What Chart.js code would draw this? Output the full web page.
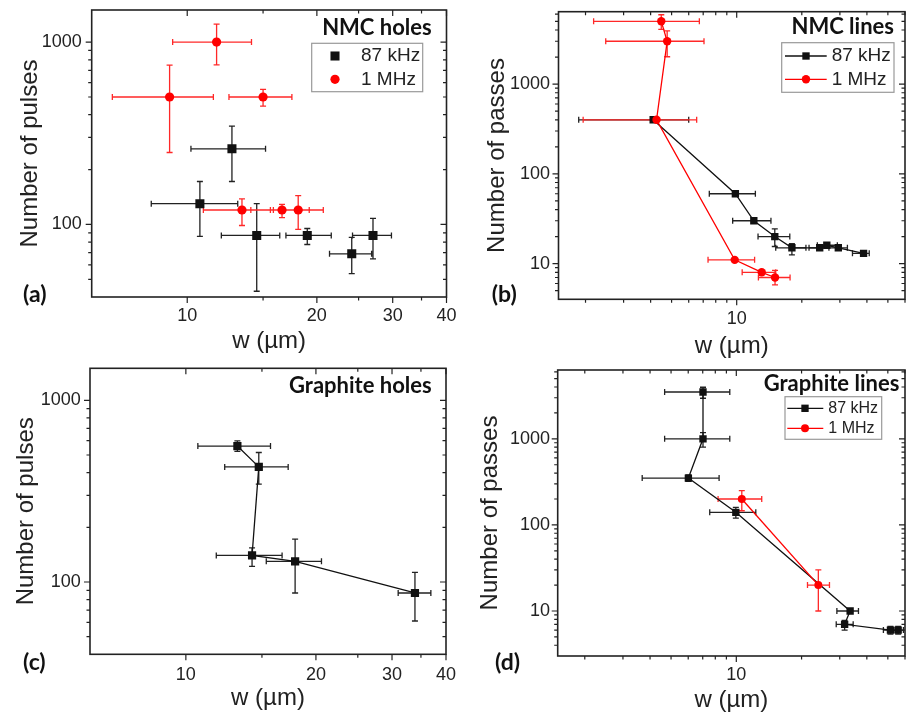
<!DOCTYPE html>
<html>
<head>
<meta charset="utf-8">
<script src="https://cdn.jsdelivr.net/npm/chart.js@4.4.1/dist/chart.umd.min.js"></script>
<style>
 html, body { margin: 0; padding: 0; background: #fff; }
 #wrap { position: relative; width: 911px; height: 715px; }
 #wrap canvas { position: absolute; left: 0; top: 0; }
</style>
</head>
<body>
<div id="wrap">
 <canvas id="chartA" width="911" height="715"></canvas>
 <canvas id="chartB" width="911" height="715"></canvas>
 <canvas id="chartC" width="911" height="715"></canvas>
 <canvas id="chartD" width="911" height="715"></canvas>
</div>
<script>
// ---- data: w (um) against number of pulses / passes, error bars as [low, high]

// (a) NMC holes
const aBlackW = [10.7, 12.7, 14.5, 19.0, 24.1, 27.0];
const aBlackN = [130, 260, 87, 87, 69, 87];
const aBlackWErr = [[8.25, 13.1], [10.2, 15.2], [12.0, 16.4], [16.95, 21.6], [21.4, 26.8], [24.2, 29.8]];
const aBlackNErr = [[86, 172], [172, 346], [43, 130], [77.6, 95], [53.7, 85], [64.7, 108]];
const aRedW = [9.1, 11.7, 15.0, 13.4, 16.6, 18.1];
const aRedN = [500, 1000, 500, 120, 120, 120];
const aRedWErr = [[6.7, 11.5], [9.25, 14.1], [12.5, 17.5], [10.9, 15.6], [14.05, 19.2], [15.85, 20.7]];
const aRedNErr = [[248, 747], [750, 1256], [445, 550], [98.7, 138], [109, 129], [94, 144]];

// (b) NMC lines
const bBlackW = [4.11, 9.86, 12.0, 15.0, 18.0, 24.2, 26.1, 29.5, 38.6];
const bBlackN = [400, 60, 30, 20, 15, 15, 16, 15, 13];
const bBlackWErr = [[1.86, 6.0], [7.47, 12.2], [9.58, 14.4], [12.55, 17.6], [15.15, 20.9], [21.6, 26.7], [23.6, 29.2], [26.7, 32.5], [34.3, 41.0]];
const bBlackNErr = [null, null, null, [15.5, 24.4], [12.5, 16.7], null, null, null, null];
const bRedW = [4.48, 4.77, 4.26, 9.79, 13.05, 15.04];
const bRedN = [5000, 3000, 400, 11, 8, 7];
const bRedWErr = [[2.18, 6.72], [2.48, 7.06], [1.95, 6.53], [7.37, 12.1], [10.6, 15.15], [12.6, 17.65]];
const bRedNErr = [[4067, 5916], [2014, 3920], null, null, null, [5.8, 8.4]];

// (c) Graphite holes
const cBlackW = [13.16, 14.75, 14.23, 17.9, 33.9];
const cBlackN = [560, 430, 140, 130, 87];
const cBlackWErr = [[10.66, 15.7], [12.3, 17.25], [11.76, 16.7], [15.35, 20.6], [31.0, 36.9]];
const cBlackNErr = [[524, 598], [346, 516], [122, 154], [87, 172], [61, 113]];

// (d) Graphite lines
const dBlackW = [7.02, 7.02, 6.01, 9.95, 33.5, 31.6, 51.4, 55.8];
const dBlackN = [3500, 1000, 350, 140, 10, 7, 6, 6];
const dBlackWErr = [[4.67, 9.33], [4.67, 9.33], [3.68, 8.33], [7.54, 12.3], [29.1, 36.6], [28.9, 34.6], [47.7, 54.0], [53.0, 59.0]];
const dBlackNErr = [[2960, 3970], [801, 1183], [320, 380], [120, 160], null, [6.0, 7.8], [5.4, 6.6], [5.4, 6.6]];
const dRedW = [10.6, 23.9];
const dRedN = [200, 20];
const dRedWErr = [[8.24, 13.1], [21.3, 26.9]];
const dRedNErr = [[146, 250], [10, 30]];

// ---- axes
const acXRange = [6, 40];
const acYRange = [40, 1500];
const bdXRange = [1.5, 60];
const bYRange = [4, 6400];
const dYRange = [3, 6300];
const acXMajor = [10, 20, 30, 40];
const acXMinor = [15, 25, 35];
const acYMajor = [100, 1000];
const acYMinor = [50, 60, 70, 80, 90, 200, 300, 400, 500, 600, 700, 800, 900];
const bdXMajor = [10];
const bdXMinor = [2, 3, 4, 5, 6, 7, 8, 9, 20, 30, 40, 50, 60];
const bdYMajor = [10, 100, 1000];
const bYMinor = [5, 6, 7, 8, 9, 20, 30, 40, 50, 60, 70, 80, 90, 200, 300, 400, 500, 600, 700, 800, 900, 2000, 3000, 4000, 5000, 6000];
const dYMinor = [4, 5, 6, 7, 8, 9, 20, 30, 40, 50, 60, 70, 80, 90, 200, 300, 400, 500, 600, 700, 800, 900, 2000, 3000, 4000, 5000, 6000];

const BLACK = '#111';
const RED = 'rgb(255, 0, 0)';
const SANS = '"Liberation Sans", Arial, sans-serif';
const BOLD = 'bold 22px Lato, sans-serif';
const TAG = 'bold 23px Lato, sans-serif';

Chart.defaults.font.family = SANS;

// error bars, drawn under lines and markers
const errorBars = {
 id: 'errorBars',
 beforeDatasetsDraw(chart) {
  const ctx = chart.ctx, xs = chart.scales.x, ys = chart.scales.y;
  chart.data.datasets.forEach(ds => {
   ctx.save();
   ctx.strokeStyle = ds.errColor;
   ctx.lineWidth = 1.3;
   ctx.beginPath();
   ds.data.forEach((p, i) => {
    const px = xs.getPixelForValue(p.x), py = ys.getPixelForValue(p.y);
    const we = ds.wErr[i], ne = ds.nErr[i];
    if (we) {
     const x1 = xs.getPixelForValue(we[0]), x2 = xs.getPixelForValue(we[1]);
     ctx.moveTo(x1, py); ctx.lineTo(x2, py);
     ctx.moveTo(x1, py - 3); ctx.lineTo(x1, py + 3);
     ctx.moveTo(x2, py - 3); ctx.lineTo(x2, py + 3);
    }
    if (ne) {
     const y1 = ys.getPixelForValue(ne[0]), y2 = ys.getPixelForValue(ne[1]);
     ctx.moveTo(px, y1); ctx.lineTo(px, y2);
     ctx.moveTo(px - 3, y1); ctx.lineTo(px + 3, y1);
     ctx.moveTo(px - 3, y2); ctx.lineTo(px + 3, y2);
    }
   });
   ctx.stroke();
   ctx.restore();
  });
 }
};

function drawMarker(ctx, ds, x, y) {
 ctx.fillStyle = ds.backgroundColor;
 ctx.beginPath();
 if (ds.pointStyle === 'rect') {
  const h = ds.pointRadius * Math.SQRT1_2;
  ctx.rect(x - h, y - h, 2 * h, 2 * h);
 } else {
  ctx.arc(x, y, ds.pointRadius, 0, Math.PI * 2);
 }
 ctx.fill();
}

// frame with mirrored ticks, panel title, tag and legend
function decor(p) {
 return {
  id: 'decor',
  afterDraw(chart) {
   const ctx = chart.ctx, a = chart.chartArea;
   const xs = chart.scales.x, ys = chart.scales.y;
   ctx.save();
   ctx.strokeStyle = '#222';
   ctx.lineWidth = 1.2;
   ctx.beginPath();
   const xt = (v, len) => {
    const px = xs.getPixelForValue(v);
    ctx.moveTo(px, a.bottom); ctx.lineTo(px, a.bottom + len);
    ctx.moveTo(px, a.top); ctx.lineTo(px, a.top + len);
   };
   const yt = (v, len) => {
    const py = ys.getPixelForValue(v);
    ctx.moveTo(a.left, py); ctx.lineTo(a.left - len, py);
    ctx.moveTo(a.right, py); ctx.lineTo(a.right - len, py);
   };
   p.xMajor.forEach(v => xt(v, 6));
   p.xMinor.forEach(v => xt(v, 3.5));
   p.yMajor.forEach(v => yt(v, 6));
   p.yMinor.forEach(v => yt(v, 3.5));
   ctx.stroke();
   ctx.lineWidth = 1.6;
   ctx.strokeRect(a.left, a.top, a.right - a.left, a.bottom - a.top);

   ctx.fillStyle = '#111';
   ctx.textBaseline = 'middle';
   ctx.font = BOLD;
   ctx.textAlign = 'right';
   ctx.fillText(p.title, p.titleAt[0], p.titleAt[1]);
   ctx.font = TAG;
   ctx.textAlign = 'left';
   ctx.fillText(p.tag, p.tagAt[0], p.tagAt[1]);

   const lg = p.legend;
   if (lg) {
    ctx.fillStyle = '#fff';
    ctx.fillRect(lg.box[0], lg.box[1], lg.box[2], lg.box[3]);
    ctx.strokeStyle = '#999';
    ctx.lineWidth = 1.2;
    ctx.strokeRect(lg.box[0], lg.box[1], lg.box[2], lg.box[3]);
    ctx.font = lg.font + 'px ' + SANS;
    chart.data.datasets.forEach((ds, i) => {
     const y = lg.rows[i];
     if (lg.line) {
      ctx.strokeStyle = ds.borderColor;
      ctx.lineWidth = 1.3;
      ctx.beginPath();
      ctx.moveTo(lg.line[0], y); ctx.lineTo(lg.line[1], y);
      ctx.stroke();
     }
     drawMarker(ctx, ds, lg.markX, y);
     ctx.fillStyle = '#222';
     ctx.fillText(ds.label, lg.textX, y);
    });
   }
   ctx.restore();
  }
 };
}

function makePanel(id, p) {
 const a = p.area;
 const datasets = p.series.map(s => ({
  label: s.label,
  data: s.w.map((v, i) => ({ x: v, y: s.n[i] })),
  wErr: s.wErr,
  nErr: s.nErr,
  errColor: s.errColor,
  showLine: s.line,
  borderColor: s.color,
  backgroundColor: s.color,
  borderWidth: 1.3,
  pointStyle: s.shape,
  pointRadius: s.r,
  pointBorderWidth: 0,
  order: s.order
 }));
 return new Chart(document.getElementById(id), {
  type: 'scatter',
  data: { datasets },
  options: {
   responsive: false,
   animation: false,
   events: [],
   layout: { padding: { left: p.boxLeft, top: a.t, right: 911 - a.r, bottom: 715 - p.boxBottom } },
   plugins: { legend: { display: false }, tooltip: { enabled: false } },
   scales: {
    x: {
     type: 'logarithmic',
     position: 'bottom',
     min: p.xRange[0],
     max: p.xRange[1],
     grid: { display: false, drawTicks: false },
     border: { display: false },
     afterBuildTicks: s => { s.ticks = p.xMajor.map(v => ({ value: v })); },
     afterFit: s => { s.height = p.boxBottom - a.b; s.paddingLeft = 0; s.paddingRight = 0; },
     ticks: { autoSkip: false, maxRotation: 0, padding: p.xTickPad, color: '#222', font: { size: 18 }, callback: v => String(v) },
     title: { display: true, text: 'w (µm)', color: '#222', font: { size: 24 }, padding: { top: 0, bottom: p.xTitlePad } }
    },
    y: {
     type: 'logarithmic',
     position: 'left',
     min: p.yRange[0],
     max: p.yRange[1],
     grid: { display: false, drawTicks: false },
     border: { display: false },
     afterBuildTicks: s => { s.ticks = p.yMajor.map(v => ({ value: v })); },
     afterFit: s => { s.width = a.l - p.boxLeft; s.paddingTop = 0; s.paddingBottom = 0; },
     ticks: { autoSkip: false, padding: p.yTickPad, color: '#222', font: { size: 18 }, callback: v => String(v) },
     title: { display: true, text: p.yTitle, color: '#222', font: { size: 24 }, padding: { top: p.yTitlePad, bottom: 0 } }
    }
   }
  },
  plugins: [errorBars, decor(p)]
 });
}

const black = { label: '87 kHz', color: BLACK, errColor: '#222', shape: 'rect', order: 1 };
const red = { label: '1 MHz', color: RED, errColor: 'rgb(255, 40, 40)', shape: 'circle', order: 0 };

makePanel('chartA', {
 area: { l: 91.7, t: 10, r: 446.5, b: 297 }, boxLeft: 0, boxBottom: 357,
 xRange: acXRange, yRange: acYRange,
 xMajor: acXMajor, xMinor: acXMinor, yMajor: acYMajor, yMinor: acYMinor,
 yTitle: 'Number of pulses', yTitlePad: 16, xTitlePad: 1, yTickPad: 10, xTickPad: 8,
 title: 'NMC holes', titleAt: [431.7, 28.3], tag: '(a)', tagAt: [23, 295],
 legend: { box: [311.7, 43.3, 111, 48.4], rows: [56, 79.3], markX: 335, textX: 361, font: 19 },
 series: [
  Object.assign({}, black, { w: aBlackW, n: aBlackN, wErr: aBlackWErr, nErr: aBlackNErr, line: false, r: 6.4 }),
  Object.assign({}, red, { w: aRedW, n: aRedN, wErr: aRedWErr, nErr: aRedNErr, line: false, r: 4.6 })
 ]
});

makePanel('chartB', {
 area: { l: 558.5, t: 11.7, r: 905, b: 299.3 }, boxLeft: 455, boxBottom: 365,
 xRange: bdXRange, yRange: bYRange,
 xMajor: bdXMajor, xMinor: bdXMinor, yMajor: bdYMajor, yMinor: bYMinor,
 yTitle: 'Number of passes', yTitlePad: 28, xTitlePad: 4, yTickPad: 8.5, xTickPad: 9,
 title: 'NMC lines', titleAt: [894, 27.3], tag: '(b)', tagAt: [491.7, 295],
 legend: { box: [781.7, 42.7, 112.3, 49.6], rows: [56, 79.3], line: [785, 826.7], markX: 806, textX: 831.7, font: 19 },
 series: [
  Object.assign({}, black, { w: bBlackW, n: bBlackN, wErr: bBlackWErr, nErr: bBlackNErr, line: true, r: 5.2 }),
  Object.assign({}, red, { w: bRedW, n: bRedN, wErr: bRedWErr, nErr: bRedNErr, line: true, r: 4.2 })
 ]
});

makePanel('chartC', {
 area: { l: 90, t: 368.3, r: 446, b: 654.3 }, boxLeft: 0, boxBottom: 715,
 xRange: acXRange, yRange: acYRange,
 xMajor: acXMajor, xMinor: acXMinor, yMajor: acYMajor, yMinor: acYMinor,
 yTitle: 'Number of pulses', yTitlePad: 12.3, xTitlePad: 2.3, yTickPad: 9.3, xTickPad: 10,
 title: 'Graphite holes', titleAt: [431.7, 386], tag: '(c)', tagAt: [23, 663],
 series: [
  Object.assign({}, black, { w: cBlackW, n: cBlackN, wErr: cBlackWErr, nErr: cBlackNErr, line: true, r: 5.8 })
 ]
});

makePanel('chartD', {
 area: { l: 557.7, t: 370, r: 905, b: 656 }, boxLeft: 455, boxBottom: 715,
 xRange: bdXRange, yRange: dYRange,
 xMajor: bdXMajor, xMinor: bdXMinor, yMajor: bdYMajor, yMinor: dYMinor,
 yTitle: 'Number of passes', yTitlePad: 21.4, xTitlePad: 0, yTickPad: 7.7, xTickPad: 8,
 title: 'Graphite lines', titleAt: [899.3, 384], tag: '(d)', tagAt: [495, 663],
 legend: { box: [785, 396.7, 96.7, 42.6], rows: [408.3, 428.3], line: [787.3, 823.3], markX: 805, textX: 828.3, font: 16 },
 series: [
  Object.assign({}, black, { w: dBlackW, n: dBlackN, wErr: dBlackWErr, nErr: dBlackNErr, line: true, r: 5.2 }),
  Object.assign({}, red, { w: dRedW, n: dRedN, wErr: dRedWErr, nErr: dRedNErr, line: true, r: 4 })
 ]
});
</script>
</body>
</html>
